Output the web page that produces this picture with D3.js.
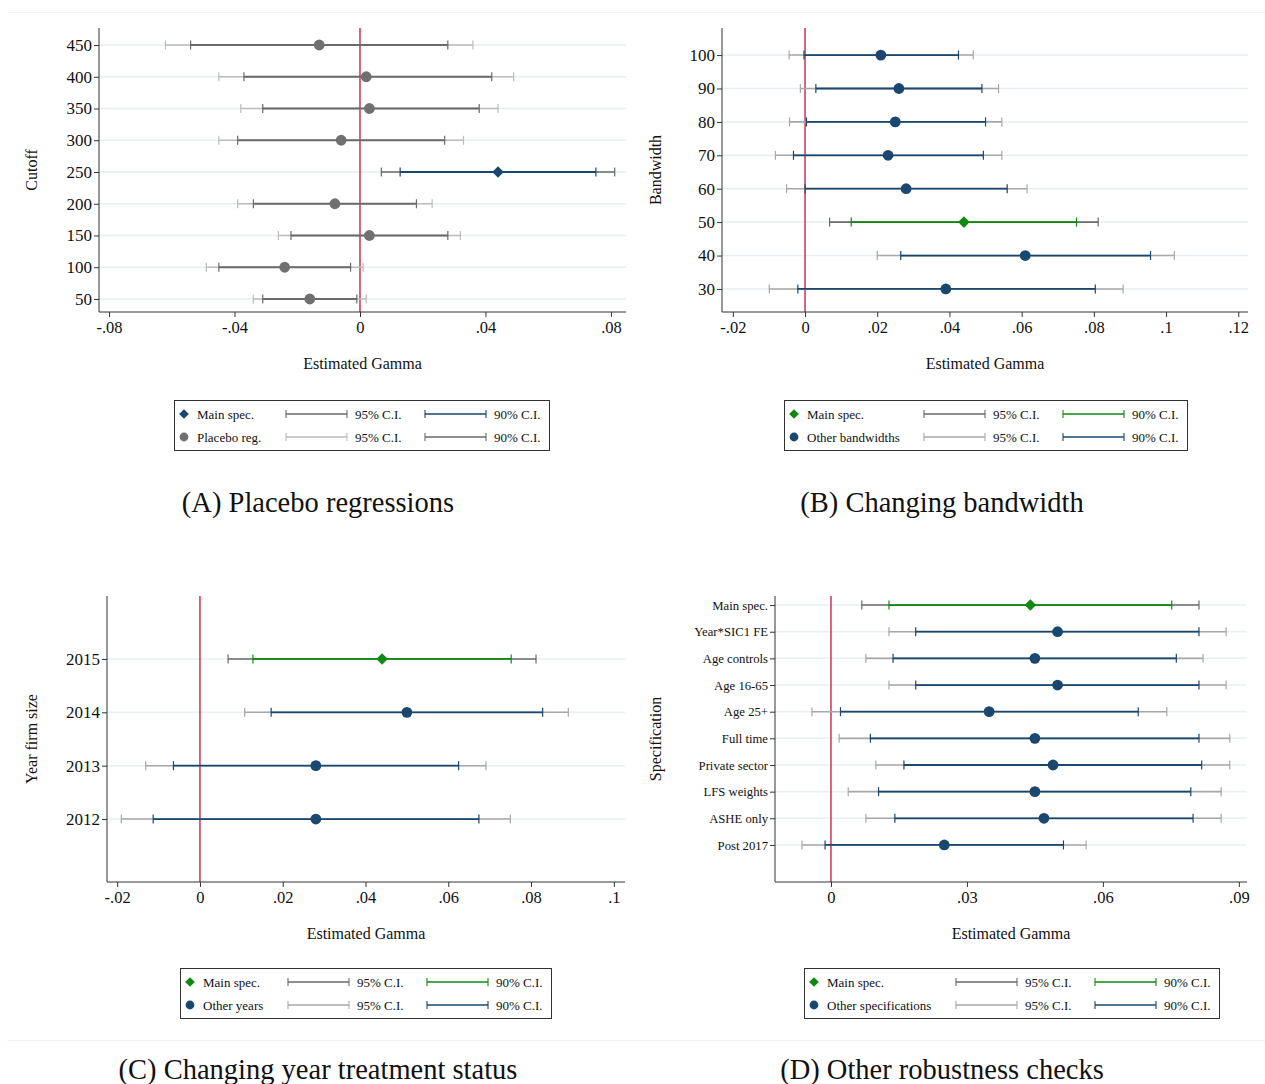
<!DOCTYPE html>
<html>
<head>
<meta charset="utf-8">
<script src="https://cdn.jsdelivr.net/npm/d3@7"></script>
<style>
  body { margin: 0; background: #fff; }
  svg { display: block; }
  text { font-family: "Liberation Serif", "Times New Roman", serif; fill: #111; }
</style>
</head>
<body>
<script>
// ---- data ----
// (A) placebo regressions
let cutoffCats = [450, 400, 350, 300, 250, 200, 150, 100, 50]
let cutoffEst  = [-0.013, 0.002, 0.003, -0.006, 0.044, -0.008, 0.003, -0.024, -0.016]
let cutoffLo90 = [-0.054, -0.037, -0.031, -0.039, 0.0128, -0.034, -0.022, -0.045, -0.031]
let cutoffHi90 = [0.028, 0.042, 0.038, 0.027, 0.0752, 0.018, 0.028, -0.003, -0.001]
let cutoffLo95 = [-0.062, -0.045, -0.038, -0.045, 0.0068, -0.039, -0.026, -0.049, -0.034]
let cutoffHi95 = [0.036, 0.049, 0.044, 0.033, 0.0812, 0.023, 0.032, 0.001, 0.002]
let cutoffMain = 250

// (B) changing bandwidth
let bwCats = [100, 90, 80, 70, 60, 50, 40, 30]
let bwEst  = [0.021, 0.026, 0.025, 0.023, 0.028, 0.044, 0.061, 0.039]
let bwLo90 = [-0.0003, 0.003, 0.0004, -0.0032, 0.0, 0.0128, 0.0265, -0.002]
let bwHi90 = [0.0425, 0.049, 0.050, 0.0494, 0.056, 0.0752, 0.0957, 0.0804]
let bwLo95 = [-0.0044, -0.0013, -0.0043, -0.0082, -0.0051, 0.0068, 0.020, -0.0099]
let bwHi95 = [0.0466, 0.0536, 0.0545, 0.0545, 0.0615, 0.0812, 0.1023, 0.0881]
let bwMain = 50

// (C) changing year treatment status
let yearCats = [2015, 2014, 2013, 2012]
let yearEst  = [0.044, 0.050, 0.028, 0.028]
let yearLo90 = [0.0128, 0.0172, -0.0064, -0.0113]
let yearHi90 = [0.0752, 0.0828, 0.0625, 0.0674]
let yearLo95 = [0.0068, 0.0108, -0.0131, -0.019]
let yearHi95 = [0.0812, 0.089, 0.0691, 0.075]
let yearMain = 2015

// (D) other robustness checks
let specCats = ["Main spec.", "Year*SIC1 FE", "Age controls", "Age 16-65", "Age 25+",
                "Full time", "Private sector", "LFS weights", "ASHE only", "Post 2017"]
let specEst  = [0.044, 0.050, 0.045, 0.050, 0.0349, 0.045, 0.049, 0.045, 0.047, 0.025]
let specLo90 = [0.0128, 0.0187, 0.0137, 0.0187, 0.0021, 0.0087, 0.0161, 0.0105, 0.0141, -0.0013]
let specHi90 = [0.0752, 0.0812, 0.0762, 0.0812, 0.0678, 0.0812, 0.0818, 0.0794, 0.0799, 0.0513]
let specLo95 = [0.0068, 0.0128, 0.0077, 0.0128, -0.0042, 0.0018, 0.0099, 0.0038, 0.0077, -0.0064]
let specHi95 = [0.0812, 0.0872, 0.0821, 0.0872, 0.0741, 0.088, 0.088, 0.0861, 0.0861, 0.0563]
let specMain = "Main spec."

let xTicksA = [-0.08, -0.04, 0, 0.04, 0.08]
let xTicksB = [-0.02, 0, 0.02, 0.04, 0.06, 0.08, 0.1, 0.12]
let xTicksC = [-0.02, 0, 0.02, 0.04, 0.06, 0.08, 0.1]
let xTicksD = [0, 0.03, 0.06, 0.09]

// ---- colours ----
let navy = "#1a476f"
let green = "#108a10"
let darkGray = "#6a6a6a"
let lightGray = "#a8a8a8"
let paleGray = "#bcbcbc"
let red = "#c4123e"
let gridCol = "#e6eff1"

let W = 1265, H = 1084
let svg = d3.select("body").append("svg").attr("width", W).attr("height", H)

// faint separators at top and bottom
svg.append("line").attr("x1", 7).attr("x2", W).attr("y1", 12.5).attr("y2", 12.5)
  .attr("stroke", "#eef3f5").attr("stroke-width", 1)
svg.append("line").attr("x1", 7).attr("x2", W).attr("y1", 1040.5).attr("y2", 1040.5)
  .attr("stroke", "#eef3f5").attr("stroke-width", 1)

let fmtTick = v => {
  if (v === 0) return "0"
  let s = String(+v.toFixed(3))
  return s.replace(/^(-?)0\./, "$1.")
}

function rows(cats, est, lo90, hi90, lo95, hi95, main) {
  return cats.map((c, i) => ({
    cat: c, idx: i, est: est[i], lo90: lo90[i], hi90: hi90[i],
    lo95: lo95[i], hi95: hi95[i], main: c === main
  }))
}

let drawPanel = (p) => {
  let g = svg.append("g")
  let x = d3.scaleLinear().domain(p.xDomain).range([p.left, p.right])
  let y = d3.scaleLinear().domain(p.yDomain).range([p.bottom, p.top])
  let yOf = d => p.categorical ? y(d.idx) : y(d.cat)

  // grid lines
  g.selectAll(".grid").data(p.data).enter().append("line")
    .attr("x1", p.left).attr("x2", p.right)
    .attr("y1", d => yOf(d)).attr("y2", d => yOf(d))
    .attr("stroke", gridCol).attr("stroke-width", 1.5)

  // zero line
  g.append("line").attr("x1", x(0)).attr("x2", x(0))
    .attr("y1", p.top).attr("y2", p.bottom)
    .attr("stroke", red).attr("stroke-width", 1.3)

  // axes
  let yAxis = d3.axisLeft(y).tickSizeOuter(0).tickSize(5).tickPadding(2)
  if (p.categorical) {
    yAxis.tickValues(d3.range(p.data.length)).tickFormat(i => p.data[i].cat)
  } else {
    yAxis.tickValues(p.data.map(d => d.cat)).tickFormat(d3.format("d"))
  }
  let ya = g.append("g").attr("transform", `translate(${p.left},0)`).call(yAxis)
  ya.select(".domain").attr("stroke", "#333").attr("d", `M0,${p.top}V${p.bottom}`)
  ya.selectAll(".tick line").attr("stroke", "#333")
  ya.selectAll("text").style("font-size", p.yFont + "px").attr("fill", "#111")
    .style("font-family", '"Liberation Serif", serif')

  let xAxis = d3.axisBottom(x).tickValues(p.xTicks).tickFormat(fmtTick)
    .tickSizeOuter(0).tickSize(5).tickPadding(4)
  let xa = g.append("g").attr("transform", `translate(0,${p.bottom})`).call(xAxis)
  xa.select(".domain").attr("stroke", "#333").attr("d", `M${p.left},0H${p.right}`)
  xa.selectAll(".tick line").attr("stroke", "#333")
  xa.selectAll("text").style("font-size", "16.5px").attr("fill", "#111")
    .style("font-family", '"Liberation Serif", serif')

  // axis titles
  g.append("text").attr("x", (p.left + p.right) / 2).attr("y", p.bottom + 57)
    .attr("text-anchor", "middle").style("font-size", "16px").text("Estimated Gamma")
  g.append("text").attr("transform", `translate(${p.yTitleX},${(p.top + p.bottom) / 2}) rotate(-90)`)
    .attr("text-anchor", "middle").style("font-size", "16px").text(p.yTitle)

  // CI bars
  let capH = 4.5
  let drawBar = (sel, lo, hi, col, w) => {
    sel.append("line").attr("x1", d => x(d[lo])).attr("x2", d => x(d[hi]))
      .attr("y1", d => yOf(d)).attr("y2", d => yOf(d))
      .attr("stroke", col).attr("stroke-width", w)
    sel.append("line").attr("x1", d => x(d[lo])).attr("x2", d => x(d[lo]))
      .attr("y1", d => yOf(d) - capH).attr("y2", d => yOf(d) + capH)
      .attr("stroke", col).attr("stroke-width", 1.2)
    sel.append("line").attr("x1", d => x(d[hi])).attr("x2", d => x(d[hi]))
      .attr("y1", d => yOf(d) - capH).attr("y2", d => yOf(d) + capH)
      .attr("stroke", col).attr("stroke-width", 1.2)
  }
  let items = g.selectAll(".item").data(p.data).enter().append("g").attr("class", "item")
  items.each(function (d) {
    let s = d3.select(this)
    drawBar(s, "lo95", "hi95", d.main ? p.main95 : p.other95, 1.6)
    drawBar(s, "lo90", "hi90", d.main ? p.main90 : p.other90, 1.8)
    if (d.main) {
      s.append("path").attr("d", d3.symbol(d3.symbolDiamond2, 85)())
        .attr("transform", `translate(${x(d.est)},${yOf(d)})`).attr("fill", p.mainMarker)
    } else {
      s.append("circle").attr("cx", x(d.est)).attr("cy", yOf(d)).attr("r", 5.4)
        .attr("fill", p.otherMarker)
    }
  })

  // legend
  let L = p.legend
  let lg = g.append("g")
  lg.append("rect").attr("x", L.x + 0.5).attr("y", L.y + 0.5).attr("width", L.w).attr("height", 50)
    .attr("fill", "#fff").attr("stroke", "#333").attr("stroke-width", 1)
  let rowsY = [L.y + 14, L.y + 37]
  let legendRows = [
    { label: L.labels[0], main: true, c95: p.main95, c90: p.main90, mk: p.mainMarker },
    { label: L.labels[1], main: false, c95: p.other95, c90: p.other90, mk: p.otherMarker }
  ]
  legendRows.forEach((r, i) => {
    let yy = rowsY[i]
    if (r.main) {
      lg.append("path").attr("d", d3.symbol(d3.symbolDiamond2, 60)())
        .attr("transform", `translate(${L.x + 10},${yy})`).attr("fill", r.mk)
    } else {
      lg.append("circle").attr("cx", L.x + 10).attr("cy", yy).attr("r", 4.4).attr("fill", r.mk)
    }
    lg.append("text").attr("x", L.x + 23).attr("y", yy + 4.5).style("font-size", "13px").text(r.label)
    ;[[L.ci1, r.c95, "95% C.I."], [L.ci2, r.c90, "90% C.I."]].forEach(([cx, col, t]) => {
      lg.append("line").attr("x1", L.x + cx).attr("x2", L.x + cx + 61).attr("y1", yy).attr("y2", yy)
        .attr("stroke", col).attr("stroke-width", 1.6)
      lg.append("line").attr("x1", L.x + cx).attr("x2", L.x + cx).attr("y1", yy - 4).attr("y2", yy + 4)
        .attr("stroke", col).attr("stroke-width", 1.1)
      lg.append("line").attr("x1", L.x + cx + 61).attr("x2", L.x + cx + 61).attr("y1", yy - 4).attr("y2", yy + 4)
        .attr("stroke", col).attr("stroke-width", 1.1)
      lg.append("text").attr("x", L.x + cx + 69).attr("y", yy + 4.5).style("font-size", "13px").text(t)
    })
  })

  // caption
  g.append("text").attr("x", p.capX).attr("y", p.capY).attr("text-anchor", "middle")
    .style("font-size", "28.5px").text(p.caption)
}

drawPanel({
  data: rows(cutoffCats, cutoffEst, cutoffLo90, cutoffHi90, cutoffLo95, cutoffHi95, cutoffMain),
  left: 99, right: 626, top: 28, bottom: 312,
  xDomain: [-0.0832, 0.0848], yDomain: [29.5, 476.8], xTicks: xTicksA,
  yTitle: "Cutoff", yTitleX: 37, yFont: 17,
  main95: darkGray, main90: navy, other95: paleGray, other90: darkGray,
  mainMarker: navy, otherMarker: "#707070",
  legend: { x: 174, y: 400, w: 375, ci1: 112, ci2: 251, labels: ["Main spec.", "Placebo reg."] },
  caption: "(A) Placebo regressions", capX: 318, capY: 512
})

drawPanel({
  data: rows(bwCats, bwEst, bwLo90, bwHi90, bwLo95, bwHi95, bwMain),
  left: 722, right: 1248, top: 28, bottom: 312,
  xDomain: [-0.023, 0.1227], yDomain: [23.1, 108.1], xTicks: xTicksB,
  yTitle: "Bandwidth", yTitleX: 661, yFont: 17,
  main95: darkGray, main90: green, other95: lightGray, other90: navy,
  mainMarker: green, otherMarker: navy,
  legend: { x: 784, y: 400, w: 403, ci1: 140, ci2: 279, labels: ["Main spec.", "Other bandwidths"] },
  caption: "(B) Changing bandwidth", capX: 942, capY: 512
})

drawPanel({
  data: rows(yearCats, yearEst, yearLo90, yearHi90, yearLo95, yearHi95, yearMain),
  left: 107, right: 625, top: 596, bottom: 882,
  xDomain: [-0.02246, 0.1027], yDomain: [2010.82, 2016.18], xTicks: xTicksC,
  yTitle: "Year firm size", yTitleX: 37, yFont: 17,
  main95: darkGray, main90: green, other95: lightGray, other90: navy,
  mainMarker: green, otherMarker: navy,
  legend: { x: 180, y: 968, w: 371, ci1: 108, ci2: 247, labels: ["Main spec.", "Other years"] },
  caption: "(C) Changing year treatment status", capX: 318, capY: 1079
})

drawPanel({
  data: rows(specCats, specEst, specLo90, specHi90, specLo95, specHi95, specMain),
  categorical: true,
  left: 775, right: 1247, top: 596, bottom: 882,
  xDomain: [-0.01235, 0.0918], yDomain: [10.39, -0.34], xTicks: xTicksD,
  yTitle: "Specification", yTitleX: 661, yFont: 12.7,
  main95: darkGray, main90: green, other95: lightGray, other90: navy,
  mainMarker: green, otherMarker: navy,
  legend: { x: 804, y: 968, w: 415, ci1: 152, ci2: 291, labels: ["Main spec.", "Other specifications"] },
  caption: "(D) Other robustness checks", capX: 942, capY: 1079
})
</script>
</body>
</html>
